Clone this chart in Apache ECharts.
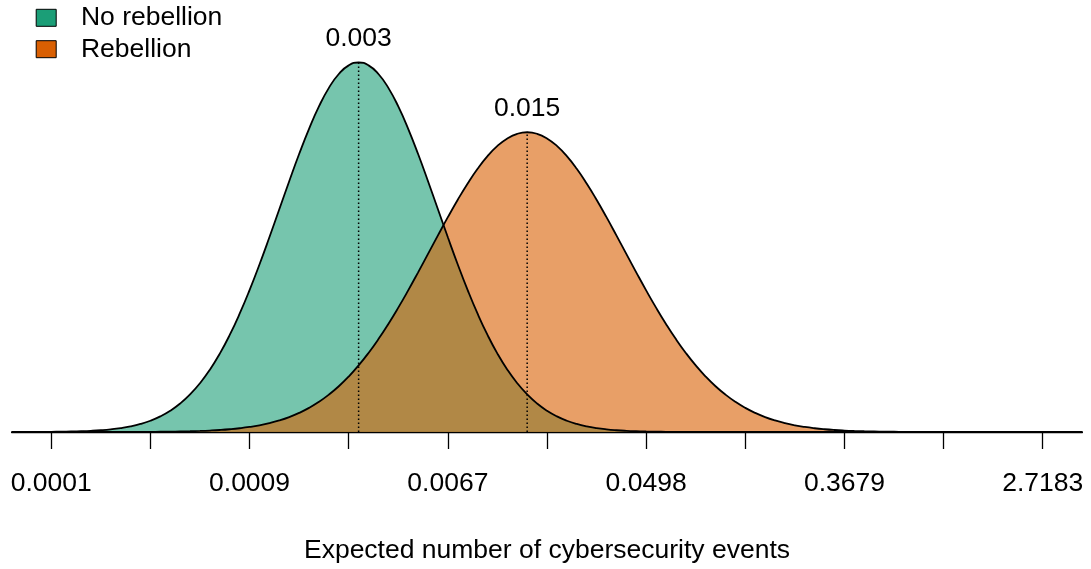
<!DOCTYPE html>
<html>
<head>
<meta charset="utf-8">
<script src="https://cdn.jsdelivr.net/npm/echarts@6/dist/echarts.min.js"></script>
<style>
  html, body { margin: 0; padding: 0; background: #ffffff; }
  #chart { width: 1091px; height: 569px; }
</style>
</head>
<body>
<div id="chart"></div>
<script>
// Log of the expected number of events (x) and the density of each group at that point
const logX = [
  -9.4, -9.3, -9.2, -9.1, -9.0, -8.9, -8.8, -8.7, -8.6, -8.5, -8.4, -8.3, -8.2, -8.1, -8.0, -7.9,
  -7.8, -7.7, -7.6, -7.5, -7.4, -7.3, -7.2, -7.1, -7.0, -6.9, -6.8, -6.7, -6.6, -6.5, -6.4, -6.3,
  -6.2, -6.1, -6.0, -5.9, -5.8, -5.7, -5.6, -5.5, -5.4, -5.3, -5.2, -5.1, -5.0, -4.9, -4.8, -4.7,
  -4.6, -4.5, -4.4, -4.3, -4.2, -4.1, -4.0, -3.9, -3.8, -3.7, -3.6, -3.5, -3.4, -3.3, -3.2, -3.1,
  -3.0, -2.9, -2.8, -2.7, -2.6, -2.5, -2.4, -2.3, -2.2, -2.1, -2.0, -1.9, -1.8, -1.7, -1.6, -1.5,
  -1.4, -1.3, -1.2, -1.1, -1.0, -0.9, -0.8, -0.7, -0.6, -0.5, -0.4, -0.3, -0.2, -0.1, 0.0, 0.1,
  0.2, 0.3, 0.4, 0.5, 0.6, 0.7, 0.8, 0.9, 1.0, 1.1, 1.2, 1.3, 1.4
];

const noRebellion = [
  0.00003, 0.00005, 0.00009, 0.00015, 0.00025, 0.00041, 0.00065, 0.00102, 0.00157, 0.00239, 0.00357,
  0.00527, 0.00764, 0.01091, 0.01532, 0.02120, 0.02886, 0.03867, 0.05101, 0.06623, 0.08463, 0.10645,
  0.13180, 0.16062, 0.19266, 0.22750, 0.26439, 0.30246, 0.34056, 0.37746, 0.41177, 0.44215, 0.46732,
  0.48618, 0.49786, 0.50181, 0.49786, 0.48618, 0.46732, 0.44215, 0.41177, 0.37746, 0.34056, 0.30246,
  0.26439, 0.22750, 0.19266, 0.16062, 0.13180, 0.10645, 0.08463, 0.06623, 0.05101, 0.03867, 0.02886,
  0.02120, 0.01532, 0.01091, 0.00764, 0.00527, 0.00357, 0.00239, 0.00157, 0.00102, 0.00065, 0.00041,
  0.00025, 0.00015, 0.00009, 0.00005, 0.00003, 0.00002, 0.00001,
  0, 0, 0, 0, 0, 0, 0, 0, 0, 0, 0, 0, 0, 0, 0, 0, 0, 0, 0, 0, 0, 0, 0, 0, 0, 0, 0, 0, 0, 0, 0, 0, 0, 0, 0, 0
];

const rebellion = [
  0, 0, 0, 0, 0, 0.00001, 0.00001, 0.00001, 0.00002, 0.00003, 0.00004, 0.00006, 0.00010, 0.00015,
  0.00022, 0.00033, 0.00048, 0.00069, 0.00099, 0.00140, 0.00197, 0.00273, 0.00376, 0.00511, 0.00687,
  0.00915, 0.01206, 0.01573, 0.02029, 0.02592, 0.03275, 0.04098, 0.05074, 0.06215, 0.07535, 0.09042,
  0.10737, 0.12617, 0.14673, 0.16888, 0.19235, 0.21683, 0.24188, 0.26703, 0.29174, 0.31542, 0.33752,
  0.35741, 0.37456, 0.38846, 0.39870, 0.40498, 0.40709, 0.40498, 0.39870, 0.38846, 0.37456, 0.35741,
  0.33752, 0.31542, 0.29174, 0.26703, 0.24188, 0.21683, 0.19235, 0.16888, 0.14673, 0.12617, 0.10737,
  0.09042, 0.07535, 0.06215, 0.05074, 0.04098, 0.03275, 0.02592, 0.02029, 0.01573, 0.01206, 0.00915,
  0.00687, 0.00511, 0.00376, 0.00273, 0.00197, 0.00140, 0.00099, 0.00069, 0.00048, 0.00033, 0.00022,
  0.00015, 0.00010, 0.00006, 0.00004, 0.00003, 0.00002, 0.00001, 0.00001, 0.00001,
  0, 0, 0, 0, 0, 0, 0, 0, 0
];

// Centre (log scale) of each distribution
const noRebellionMean = -5.9;
const rebellionMean = -4.2;

// Axis ticks (log scale) and their labels on the original scale
const minorTickValues = [-9, -8, -7, -6, -5, -4, -3, -2, -1, 0, 1];
const tickValues = [-9, -7, -5, -3, -1, 1];
const tickLabels = ['0.0001', '0.0009', '0.0067', '0.0498', '0.3679', '2.7183'];

const groupNames = ['No rebellion', 'Rebellion'];
const groupColors = ['#1B9E77', '#D95F02'];
const groupFills = ['rgba(27,158,119,0.6)', 'rgba(217,95,2,0.6)'];

const FONT = "'Liberation Sans', Arial, Helvetica, sans-serif";
const FS = 26.5;

const toPairs = (ys) => logX.map((x, i) => [x, ys[i]]);
const groups = [
  { name: groupNames[0], values: noRebellion, mean: noRebellionMean },
  { name: groupNames[1], values: rebellion, mean: rebellionMean }
];

const series = [];
// filled densities
groups.forEach((g, i) => {
  series.push({
    name: g.name,
    type: 'line',
    data: toPairs(g.values),
    smooth: true,
    showSymbol: false,
    silent: true,
    itemStyle: { color: groupColors[i] },
    lineStyle: { opacity: 0 },
    areaStyle: { color: groupFills[i], opacity: 1 },
    z: 1
  });
});
// outlines drawn over both fills
groups.forEach((g) => {
  series.push({
    name: g.name + ' outline',
    type: 'line',
    data: toPairs(g.values),
    smooth: true,
    showSymbol: false,
    silent: true,
    lineStyle: { color: '#000000', width: 1.8 },
    z: 3
  });
});
// dotted line from the baseline to the peak at each centre
groups.forEach((g) => {
  const peak = g.values[logX.indexOf(g.mean)];
  series.push({
    name: g.name + ' centre',
    type: 'line',
    data: [[g.mean, 0], [g.mean, peak]],
    showSymbol: false,
    silent: true,
    lineStyle: { color: '#000000', width: 1.5, type: [1.5, 2.5] },
    z: 4
  });
  // centre value written above the peak
  series.push({
    name: g.name + ' centre value',
    type: 'scatter',
    data: [[g.mean, peak]],
    symbol: 'circle',
    symbolSize: 1,
    silent: true,
    itemStyle: { color: '#000000', opacity: 1 },
    label: {
      show: true,
      position: 'top',
      distance: 10,
      formatter: () => Math.exp(g.mean).toFixed(3),
      fontFamily: FONT,
      fontSize: FS,
      color: '#000000',
      opacity: 1
    },
    z: 5
  });
});

const chart = echarts.init(document.getElementById('chart'), null, { renderer: 'canvas' });
chart.setOption({
  animation: false,
  backgroundColor: '#ffffff',
  grid: { left: 11.6, right: 8.6, top: 27, bottom: 134.7, containLabel: false },
  legend: {
    orient: 'vertical',
    left: 35.7,
    top: 4.3,
    padding: 0,
    itemWidth: 20,
    itemHeight: 17,
    itemGap: 4.4,
    icon: 'rect',
    selectedMode: false,
    data: groupNames.map((n, i) => ({
      name: n,
      itemStyle: { color: groupColors[i], borderColor: '#000000', borderWidth: 1 }
    })),
    textStyle: {
      fontFamily: FONT,
      fontSize: FS,
      color: '#000000',
      padding: [0, 0, 0, 19.7]
    }
  },
  xAxis: {
    type: 'value',
    min: -9.4,
    max: 1.4,
    name: 'Expected number of cybersecurity events',
    nameLocation: 'middle',
    nameGap: 105,
    nameTextStyle: { fontFamily: FONT, fontSize: FS, color: '#000000' },
    axisLine: { show: true, onZero: false, lineStyle: { color: '#000000', width: 1.3 } },
    axisTick: {
      show: true,
      inside: false,
      length: 17,
      customValues: minorTickValues,
      lineStyle: { color: '#000000', width: 1.3 }
    },
    axisLabel: {
      show: true,
      customValues: tickValues,
      margin: 38,
      fontFamily: FONT,
      fontSize: FS,
      color: '#000000',
      formatter: (v) => tickLabels[tickValues.indexOf(v)]
    },
    splitLine: { show: false }
  },
  yAxis: {
    type: 'value',
    min: 0,
    max: 0.55,
    show: false,
    splitLine: { show: false }
  },
  series: series
});
</script>
</body>
</html>
